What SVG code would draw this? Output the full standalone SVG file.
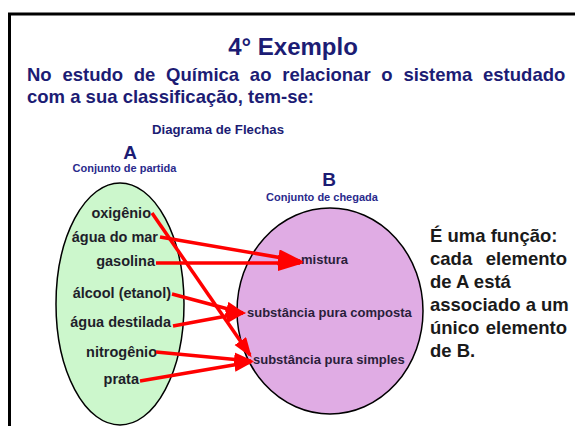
<svg xmlns="http://www.w3.org/2000/svg" width="575" height="426" viewBox="0 0 575 426">
<style>
text{font-family:"Liberation Sans",Arial,sans-serif;font-weight:bold}
.navy{fill:#1c1c74}
.sub{fill:#2a2a8c;font-size:11px}
.item{fill:#1e1e2a;font-size:14.5px}
.bitem{fill:#2a1e3a;font-size:13px}
.side{fill:#1a1a1a;font-size:18.5px}
.arrow{stroke:#ff0000;stroke-width:3.5;fill:none;marker-end:url(#ah)}
.arrow.big{marker-end:url(#ahb)}
</style>
<defs>
<marker id="ah" markerUnits="userSpaceOnUse" markerWidth="22" markerHeight="16" refX="17" refY="7" orient="auto">
<path d="M0,0 L20,7 L0,14 Z" fill="#ff0000"/>
</marker>
<marker id="ahb" markerUnits="userSpaceOnUse" markerWidth="28" markerHeight="18" refX="22" refY="8" orient="auto">
<path d="M0,0 L26,8 L0,16 Z" fill="#ff0000"/>
</marker>
</defs>
<rect x="0" y="0" width="575" height="426" fill="#ffffff"/>
<rect x="9.5" y="14" width="620" height="460" fill="none" stroke="#000" stroke-width="3"/>
<text class="navy" x="293" y="55" font-size="24" text-anchor="middle">4° Exemplo</text>
<text class="navy" x="27" y="81" font-size="18.5" word-spacing="5.6">No estudo de Química ao relacionar o sistema estudado</text>
<text class="navy" x="27" y="103" font-size="18.5">com a sua classificação, tem-se:</text>
<text class="navy" x="218" y="134" font-size="13.2" text-anchor="middle">Diagrama de Flechas</text>
<g id="setA">
<text class="navy" x="130" y="159" font-size="19" text-anchor="middle">A</text>
<text class="sub" x="124.5" y="172" text-anchor="middle">Conjunto de partida</text>
<ellipse cx="120" cy="304" rx="64" ry="121" fill="#ccf7cc" stroke="#000" stroke-width="1.5"/>
</g>
<g id="setB">
<text class="navy" x="329" y="186" font-size="19" text-anchor="middle">B</text>
<text class="sub" x="322" y="201" text-anchor="middle">Conjunto de chegada</text>
<ellipse cx="330" cy="311" rx="93" ry="103" fill="#e0ace4" stroke="#000" stroke-width="1.5"/>
</g>
<g id="a-oxigenio"><text class="item" x="151" y="218" text-anchor="end">oxigênio</text></g>
<g id="a-agua-mar"><text class="item" x="158" y="242" text-anchor="end">água do mar</text></g>
<g id="a-gasolina"><text class="item" x="155" y="266" text-anchor="end">gasolina</text></g>
<g id="a-alcool"><text class="item" x="171" y="298" text-anchor="end">álcool (etanol)</text></g>
<g id="a-agua-destilada"><text class="item" x="171" y="327" text-anchor="end">água destilada</text></g>
<g id="a-nitrogenio"><text class="item" x="157" y="357" text-anchor="end">nitrogênio</text></g>
<g id="a-prata"><text class="item" x="139" y="384" text-anchor="end">prata</text></g>
<g id="b-mistura"><text class="bitem" x="301" y="264">mistura</text></g>
<g id="b-composta"><text class="bitem" x="247" y="317">substância pura composta</text></g>
<g id="b-simples"><text class="bitem" x="253" y="364">substância pura simples</text></g>
<g id="connectors">
<line class="arrow" x1="152" y1="213" x2="250" y2="355"/>
<line class="arrow big" x1="160" y1="237" x2="300" y2="261"/>
<line class="arrow big" x1="156" y1="263" x2="300" y2="263"/>
<line class="arrow" x1="172" y1="294" x2="243" y2="313"/>
<line class="arrow" x1="173" y1="326" x2="243" y2="313"/>
<line class="arrow" x1="156" y1="352" x2="251" y2="361"/>
<line class="arrow" x1="140" y1="381" x2="251" y2="362"/>
</g>
<g id="note">
<text class="side" x="430" y="242">É uma função:</text>
<text class="side" x="430" y="265">cada</text>
<text class="side" x="567" y="265" text-anchor="end">elemento</text>
<text class="side" x="430" y="288">de A está</text>
<text class="side" x="430" y="311">associado a um</text>
<text class="side" x="430" y="334">único</text>
<text class="side" x="567" y="334" text-anchor="end">elemento</text>
<text class="side" x="430" y="357">de B.</text>
</g>
</svg>
